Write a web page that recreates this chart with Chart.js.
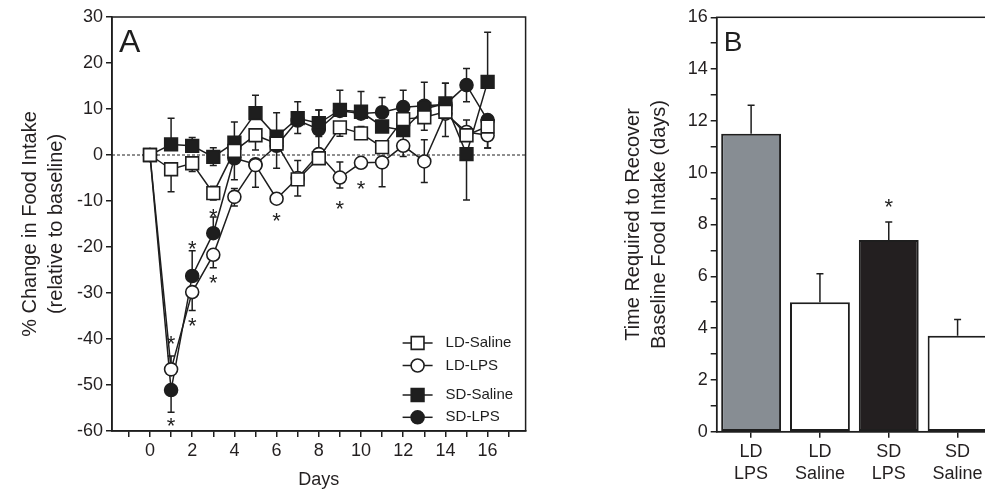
<!DOCTYPE html>
<html>
<head>
<meta charset="utf-8">
<script src="https://cdn.jsdelivr.net/npm/chart.js@4.4.1/dist/chart.umd.min.js"></script>
<style>
  html, body { margin: 0; padding: 0; background: #fff; overflow: hidden; }
  #wrap { position: relative; width: 985px; height: 491px; overflow: hidden; }
  #chartA { position: absolute; left: 0; top: 0; }
  #chartB { position: absolute; left: 590px; top: 0; }
</style>
</head>
<body>
<div id="wrap">
  <canvas id="chartA" width="560" height="491"></canvas>
  <canvas id="chartB" width="402" height="491"></canvas>
</div>
<script>
// Panel A: % change in food intake by day
const days = [0, 1, 2, 3, 4, 5, 6, 7, 8, 9, 10, 11, 12, 13, 14, 15, 16];
const ldSaline = [0, -3.1, -1.8, -8.3, 0.9, 4.3, 2.5, -5.3, -0.7, 6.0, 4.7, 1.7, 7.8, 8.2, 9.4, 4.3, 6.2];
const ldLps = [0, -46.6, -29.8, -21.7, -9.1, -2.2, -9.5, -5.0, 0.2, -4.9, -1.7, -1.6, 2.0, -1.4, 9.0, 5.0, 4.3];
const sdSaline = [0, 2.3, 2.0, -0.4, 2.7, 9.1, 4.0, 8.0, 6.9, 9.8, 9.4, 6.2, 5.4, 10.0, 11.2, 0.2, 15.9];
const sdLps = [0, -51.1, -26.3, -17.0, -0.7, -2.0, 2.0, 7.5, 5.6, 9.6, 9.0, 9.3, 10.4, 10.7, 11.0, 15.2, 7.6];

// error bars as drawn (0 = not shown)
const ldSalineUp = [0, 0, 0, 1.5, 0, 0, 0, 4.1, 0, 0, 1.5, 0, 0, 0, 6.2, 3.3, 0];
const ldSalineDown = [0, 4.9, 1.8, 1.5, 6.3, 3.2, 0, 3.6, 0, 1.9, 0, 0, 0, 2.8, 5.4, 0, 0];
const ldLpsUp = [0, 2.9, 0, 0, 1.8, 0, 0, 0, 0, 3.4, 0, 0, 2.3, 4.7, 0, 0, 0];
const ldLpsDown = [0, 0, 4.0, 2.8, 2.0, 0, 0, 0, 0, 2.3, 0, 5.3, 2.3, 4.6, 0, 0, 2.8];
const sdSalineUp = [0, 5.7, 1.8, 2.0, 4.5, 3.9, 5.2, 3.6, 2.9, 0, 4.4, 0, 0, 0, 4.4, 0, 10.8];
const sdSalineDown = [0, 0, 0, 1.9, 0, 0, 6.9, 3.3, 2.9, 0, 0, 0, 0, 0, 0, 10.0, 0];
const sdLpsUp = [0, 0, 5.5, 3.5, 0, 0, 0, 0, 4.2, 4.5, 0, 3.2, 3.7, 5.1, 0, 3.6, 0];
const sdLpsDown = [0, 4.8, 0, 0, 0, 5.0, 0, 0, 4.8, 0, 0, 0, 0, 0, 0, 3.6, 6.1];

const starDays = [1, 1, 2, 2, 3, 3, 6, 9, 10];
const starVals = [-39.8, -57.6, -19.2, -35.9, -12.3, -26.5, -13.0, -10.4, -6.2];

// Panel B: time to recover baseline intake
const groups = [["LD", "LPS"], ["LD", "Saline"], ["SD", "LPS"], ["SD", "Saline"]];
const recoveryDays = [11.5, 5.0, 7.4, 3.7];
const recoverySem = [1.1, 1.1, 0.7, 0.63];
const barColors = ["#878d93", "#ffffff", "#231f20", "#ffffff"];
const starGroupB = 2;
const starValB = 8.9;

Chart.defaults.font.family = "'Liberation Sans', Arial, sans-serif";
Chart.defaults.color = "#231f20";

const ink = "#1e1e1e";
const tickFont = { size: 18 };

function series(label, vals, up, down, style, fill) {
  return {
    label: label,
    data: days.map((d, i) => ({ x: d, y: vals[i] })),
    errUp: up,
    errDown: down,
    borderColor: ink,
    borderWidth: 1.5,
    pointStyle: style,
    pointRadius: style === "rect" ? 9 : 6.5,
    pointBackgroundColor: fill,
    pointBorderColor: ink,
    pointBorderWidth: 1.6,
    tension: 0,
  };
}

const frameBox = {
  id: "frameBox",
  afterDraw(chart) {
    const { ctx, chartArea: a } = chart;
    ctx.save();
    ctx.strokeStyle = ink;
    ctx.lineWidth = 1.5;
    ctx.strokeRect(a.left, a.top, a.right - a.left, a.bottom - a.top);
    ctx.restore();
  }
};

function star(ctx, x, y, size) {
  ctx.font = size + "px 'Liberation Sans', Arial, sans-serif";
  ctx.textAlign = "center";
  ctx.textBaseline = "alphabetic";
  ctx.fillText("*", x, y + size * 0.58);
}

const extrasA = {
  id: "extrasA",
  beforeDatasetsDraw(chart) {
    const { ctx, chartArea: a, scales: { x, y } } = chart;
    ctx.save();
    // zero reference line
    ctx.strokeStyle = ink;
    ctx.lineWidth = 1;
    ctx.setLineDash([3, 2]);
    ctx.beginPath();
    ctx.moveTo(a.left, y.getPixelForValue(0));
    ctx.lineTo(a.right, y.getPixelForValue(0));
    ctx.stroke();
    ctx.setLineDash([]);
    // error bars
    ctx.lineWidth = 1.5;
    chart.data.datasets.forEach(ds => {
      ds.data.forEach((p, i) => {
        const px = x.getPixelForValue(p.x);
        [[ds.errUp[i], 1], [ds.errDown[i], -1]].forEach(([e, dir]) => {
          if (!e) return;
          const y0 = y.getPixelForValue(p.y);
          const y1 = y.getPixelForValue(p.y + dir * e);
          ctx.beginPath();
          ctx.moveTo(px, y0);
          ctx.lineTo(px, y1);
          ctx.moveTo(px - 3.5, y1);
          ctx.lineTo(px + 3.5, y1);
          ctx.stroke();
        });
      });
    });
    ctx.restore();
  },
  afterDatasetsDraw(chart) {
    const { ctx, chartArea: a, scales: { x, y } } = chart;
    ctx.save();
    ctx.fillStyle = ink;
    starDays.forEach((d, i) => star(ctx, x.getPixelForValue(d), y.getPixelForValue(starVals[i]), 22));
    // panel letter
    ctx.font = "32px 'Liberation Sans', Arial, sans-serif";
    ctx.textAlign = "left";
    ctx.textBaseline = "alphabetic";
    ctx.fillText("A", a.left + 7, a.top + 35);
    // legend
    const offs = [-88, -65.5, -36, -13.7];
    const mx = a.right - 108;
    chart.data.datasets.forEach((ds, i) => {
      const ly = a.bottom + offs[i];
      ctx.strokeStyle = ink;
      ctx.lineWidth = 1.5;
      ctx.beginPath();
      ctx.moveTo(mx - 15, ly);
      ctx.lineTo(mx + 15, ly);
      ctx.stroke();
      ctx.fillStyle = ds.pointBackgroundColor;
      ctx.lineWidth = ds.pointBorderWidth;
      Chart.helpers.drawPoint(ctx, { pointStyle: ds.pointStyle, radius: ds.pointRadius, rotation: 0, borderWidth: ds.pointBorderWidth }, mx, ly);
      ctx.fillStyle = ink;
      ctx.font = "15px 'Liberation Sans', Arial, sans-serif";
      ctx.textAlign = "left";
      ctx.textBaseline = "middle";
      ctx.fillText(ds.label, mx + 28, ly);
    });
    ctx.restore();
  }
};

new Chart(document.getElementById("chartA"), {
  type: "line",
  data: {
    datasets: [
      series("LD-Saline", ldSaline, ldSalineUp, ldSalineDown, "rect", "#ffffff"),
      series("LD-LPS", ldLps, ldLpsUp, ldLpsDown, "circle", "#ffffff"),
      series("SD-Saline", sdSaline, sdSalineUp, sdSalineDown, "rect", ink),
      series("SD-LPS", sdLps, sdLpsUp, sdLpsDown, "circle", ink),
    ],
  },
  options: {
    responsive: false,
    animation: false,
    layout: { padding: { top: 17, right: 34.4, left: 0, bottom: 0 } },
    plugins: { legend: { display: false }, tooltip: { enabled: false } },
    scales: {
      x: {
        type: "linear",
        min: -1.8,
        max: 17.8,
        afterFit: s => { s.height = 60; },
        ticks: {
          stepSize: 1,
          includeBounds: false,
          autoSkip: false,
          maxRotation: 0,
          padding: 3,
          font: tickFont,
          callback: v => (v >= 0 && v <= 16 && v % 2 === 0) ? v : "",
        },
        grid: { drawOnChartArea: false, tickLength: 6, color: ink, lineWidth: 1.5 },
        border: { color: ink, width: 1.5 },
        title: { display: true, text: "Days", font: { size: 18 }, padding: { top: 0, bottom: 0 } },
      },
      y: {
        min: -60,
        max: 30,
        afterFit: s => { s.width = 112; },
        ticks: {
          stepSize: 5,
          padding: 3,
          font: tickFont,
          callback: v => v % 10 === 0 ? v : "",
        },
        grid: { drawOnChartArea: false, tickLength: 6, color: ink, lineWidth: 1.5 },
        border: { color: ink, width: 1.5 },
        title: {
          display: true,
          text: ["% Change in Food Intake", "(relative to baseline)"],
          font: { size: 20, lineHeight: 1.3 },
          padding: { top: 17, bottom: 0 },
        },
      },
    },
  },
  plugins: [extrasA, frameBox],
});

const extrasB = {
  id: "extrasB",
  afterDatasetsDraw(chart) {
    const { ctx, chartArea: a, scales: { x, y } } = chart;
    ctx.save();
    ctx.strokeStyle = ink;
    ctx.fillStyle = ink;
    ctx.lineWidth = 1.5;
    recoveryDays.forEach((v, i) => {
      const px = x.getPixelForValue(i);
      const y0 = y.getPixelForValue(v);
      const y1 = y.getPixelForValue(v + recoverySem[i]);
      ctx.beginPath();
      ctx.moveTo(px, y0);
      ctx.lineTo(px, y1);
      ctx.moveTo(px - 3.5, y1);
      ctx.lineTo(px + 3.5, y1);
      ctx.stroke();
    });
    star(ctx, x.getPixelForValue(starGroupB), y.getPixelForValue(starValB), 22);
    ctx.font = "28px 'Liberation Sans', Arial, sans-serif";
    ctx.textAlign = "left";
    ctx.textBaseline = "alphabetic";
    ctx.fillText("B", a.left + 7, a.top + 34);
    ctx.restore();
  }
};

new Chart(document.getElementById("chartB"), {
  type: "bar",
  data: {
    labels: groups,
    datasets: [{
      data: recoveryDays,
      backgroundColor: barColors,
      borderColor: ink,
      borderWidth: 2,
      borderSkipped: false,
      barPercentage: 0.87,
      categoryPercentage: 1,
    }],
  },
  options: {
    responsive: false,
    animation: false,
    layout: { padding: { top: 17.3, right: 0, left: 0, bottom: 0 } },
    plugins: { legend: { display: false }, tooltip: { enabled: false } },
    scales: {
      x: {
        afterFit: s => { s.height = 59.3; },
        ticks: { font: { size: 18, lineHeight: 1.25 }, padding: 3, autoSkip: false, maxRotation: 0 },
        grid: { offset: false, drawOnChartArea: false, tickLength: 6, color: ink, lineWidth: 1.5 },
        border: { color: ink, width: 1.5 },
      },
      y: {
        min: 0,
        max: 16,
        afterFit: s => { s.width = 126.7; },
        ticks: { stepSize: 1, padding: 3, font: tickFont, callback: v => v % 2 === 0 ? v : "" },
        grid: { drawOnChartArea: false, tickLength: 6, color: ink, lineWidth: 1.5 },
        border: { color: ink, width: 1.5 },
        title: {
          display: true,
          text: ["Time Required to Recover", "Baseline Food Intake (days)"],
          font: { size: 20, lineHeight: 1.3 },
          padding: { top: 30, bottom: 0 },
        },
      },
    },
  },
  plugins: [extrasB, frameBox],
});
</script>
</body>
</html>
